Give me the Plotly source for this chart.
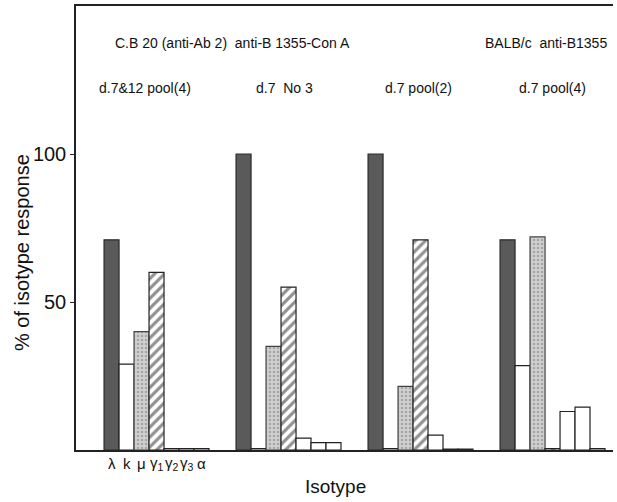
import plotly.graph_objects as go

groups = ["d.7&12 pool(4)", "d.7  No 3", "d.7 pool(2)", "d.7 pool(4)"]
isotypes = ["λ", "k", "μ", "γ<sub>1</sub>", "γ<sub>2</sub>", "γ<sub>3</sub>", "α"]

# % of isotype response per isotype, one value per group
lam = [71, 100, 100, 71]
kap = [29, 0.5, 0.5, 28.5]
mu = [40, 35, 21.5, 72]
g1 = [60, 55, 71, 0.5]
g2 = [0.5, 4, 5, 13]
g3 = [0.5, 2.5, 0.3, 14.5]
alpha = [0.5, 2.5, 0.3, 0.5]

series = [lam, kap, mu, g1, g2, g3, alpha]
styles = [
    dict(color="#5a5a5a", line=dict(color="#2a2a2a", width=1.2)),
    dict(color="white", line=dict(color="#222", width=1.2)),
    dict(color="#c4c4c4", line=dict(color="#444", width=1.2),
         pattern=dict(shape=".", fgcolor="#7a7a7a", bgcolor="#cfcfcf", size=4, solidity=0.3)),
    dict(color="white", line=dict(color="#222", width=1.2),
         pattern=dict(shape="/", fgcolor="#222", bgcolor="white", size=7, solidity=0.45)),
    dict(color="white", line=dict(color="#222", width=1.2)),
    dict(color="white", line=dict(color="#222", width=1.2)),
    dict(color="white", line=dict(color="#222", width=1.2)),
]

fig = go.Figure()
for name, vals, st in zip(isotypes, series, styles):
    fig.add_trace(go.Bar(x=groups, y=vals, name=name, marker=st, showlegend=False))

font_family = "Liberation Sans"
annotations = []
# isotype labels under first group
for i, name in enumerate(isotypes):
    annotations.append(dict(x=groups[0], y=0, xref="x", yref="y", text=name, showarrow=False,
                            xanchor="center", yanchor="middle",
                            xshift=(i - 3) * 15, yshift=-13, font=dict(size=15, color="#111")))
# group labels
shifts = [-11.5, -4.5, -2.5, -0.5]
for g, s in zip(groups, shifts):
    annotations.append(dict(x=g, y=0.815, xref="x", yref="paper", text=g, showarrow=False,
                            xanchor="center", yanchor="middle",
                            xshift=s, font=dict(size=14, color="#111")))
annotations.append(dict(x=(113 - 76) / 537, y=0.9167, xref="paper", yref="paper", xanchor="left",
                        yanchor="middle",
                        text="C.B 20 (anti-Ab 2)  anti-B 1355-Con A", showarrow=False,
                        font=dict(size=14, color="#111")))
annotations.append(dict(x=(483 - 76) / 537, y=0.9167, xref="paper", yref="paper", xanchor="left",
                        yanchor="middle",
                        text="BALB/c  anti-B1355", showarrow=False,
                        font=dict(size=14, color="#111")))
annotations.append(dict(x=(22 - 76) / 537, y=(450 - 253) / 444, xref="paper", yref="paper",
                        xanchor="center", yanchor="middle",
                        text="% of isotype response", textangle=-90, showarrow=False,
                        font=dict(size=20, color="#111")))
annotations.append(dict(x=(335 - 76) / 537, y=(450 - 487) / 444, xref="paper", yref="paper",
                        xanchor="center", yanchor="middle",
                        text="Isotype", showarrow=False, font=dict(size=19, color="#111")))

fig.update_layout(
    width=617, height=502,
    margin=dict(l=76, r=4, t=6, b=52),
    paper_bgcolor="white", plot_bgcolor="white",
    barmode="group", bargap=0.205, bargroupgap=0,
    font=dict(family=font_family, color="#111"),
    annotations=annotations,
    xaxis=dict(range=[-0.61, 3.458], showticklabels=False, ticks="", showgrid=False,
               showline=True, linecolor="#222", linewidth=1.5, mirror=True, zeroline=False),
    yaxis=dict(range=[0, 150], tickvals=[50, 100], ticktext=["50", "100"], ticks="outside",
               ticklen=4, tickcolor="#222", tickfont=dict(size=20), showgrid=False,
               showline=True, linecolor="#222", linewidth=1.5, zeroline=False),
)

fig.write_html("out.html", config={"displayModeBar": False},
               post_script="document.body.style.margin='0';document.body.style.overflow='hidden';")
